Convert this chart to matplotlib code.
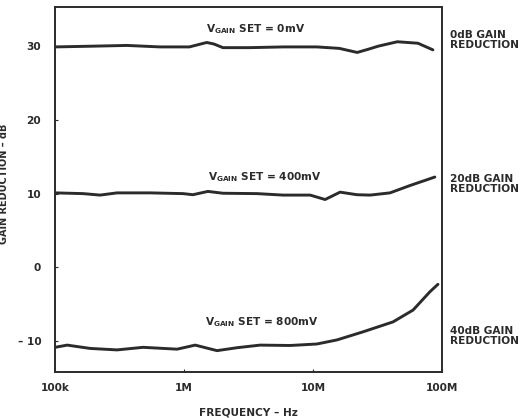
import matplotlib

matplotlib.use("Agg")
import matplotlib.pyplot as plt
from matplotlib.ticker import FixedLocator, NullFormatter

# readings from the scanned datasheet curve (Hz, dB)
top_freq = [100e3, 195e3, 360e3, 650e3, 1.1e6, 1.35e6, 1.5e6, 1.7e6, 2.0e6,
            3.2e6, 5.9e6, 10.7e6, 16e6, 19e6, 22e6, 27e6, 32e6, 45e6, 65e6, 85e6]
top_db = [29.9, 30.0, 30.1, 29.9, 29.9, 30.3, 30.5, 30.3, 29.8,
          29.8, 29.9, 29.9, 29.7, 29.4, 29.15, 29.6, 30.0, 30.6, 30.4, 29.5]

mid_freq = [100e3, 165e3, 223e3, 302e3, 545e3, 982e3, 1.17e6, 1.53e6, 2.0e6,
            3.68e6, 5.85e6, 9.5e6, 12.4e6, 16.2e6, 21.9e6, 27.7e6, 39.5e6,
            56.5e6, 88e6]
mid_db = [10.1, 10.0, 9.8, 10.1, 10.1, 10.0, 9.85, 10.3, 10.05,
          10.0, 9.8, 9.8, 9.2, 10.2, 9.85, 9.8, 10.1, 11.1, 12.25]

low_freq = [100e3, 124e3, 187e3, 302e3, 481e3, 883e3, 1.22e6, 1.8e6, 2.58e6,
            3.88e6, 6.64e6, 10.7e6, 15.3e6, 24.4e6, 41.7e6, 59.6e6, 80.7e6, 93e6]
low_db = [-10.85, -10.55, -11.0, -11.2, -10.85, -11.1, -10.55, -11.3, -10.9,
          -10.55, -10.6, -10.4, -9.85, -8.75, -7.4, -5.8, -3.3, -2.3]

x_ticks = [100e3, 1e6, 10e6, 100e6]
x_labels = ["100k", "1M", "10M", "100M"]
y_ticks = [30, 20, 10, 0, -10]
y_labels = ["30", "20", "10", "0", "\u2013 10"]

curve_labels = ["SET = 0mV", "SET = 400mV", "SET = 800mV"]
curve_label_pos = [(3.6e6, 32.3), (4.2e6, 12.2), (4.0e6, -7.4)]
side_labels = ["0dB GAIN\nREDUCTION", "20dB GAIN\nREDUCTION", "40dB GAIN\nREDUCTION"]
side_label_y = [30.9, 11.3, -9.3]

ink = "#2b2b2b"
fs = 7.6
plt.rcParams["font.family"] = ["DejaVu Sans"]
plt.rcParams["font.weight"] = "bold"
plt.rcParams["axes.labelweight"] = "bold"
plt.rcParams["mathtext.fontset"] = "custom"
plt.rcParams["mathtext.rm"] = "DejaVu Sans:bold"

fig = plt.figure(figsize=(5.3, 4.18), dpi=100)
ax = fig.add_axes([0.104, 0.110, 0.730, 0.873])

for freq, db in ((top_freq, top_db), (mid_freq, mid_db), (low_freq, low_db)):
    ax.plot(freq, db, color=ink, linewidth=2.1, solid_capstyle="round",
            solid_joinstyle="round")

ax.set_xscale("log")
ax.set_xlim(100e3, 100e6)
ax.set_ylim(-14.2, 35.3)

ax.xaxis.set_major_locator(FixedLocator(x_ticks))
ax.set_xticklabels(x_labels)
ax.xaxis.set_minor_formatter(NullFormatter())
ax.set_yticks(y_ticks)
ax.set_yticklabels(y_labels)
ax.tick_params(axis="both", which="both", direction="in", length=2,
               width=0.8, colors=ink, labelsize=fs)
ax.tick_params(axis="x", which="minor", length=0)
ax.tick_params(axis="x", pad=8)
ax.tick_params(axis="y", pad=10)

for spine in ax.spines.values():
    spine.set_linewidth(1.4)
    spine.set_color(ink)

ax.set_xlabel("FREQUENCY \u2013 Hz", fontsize=fs, color=ink, labelpad=10)
ax.set_ylabel("GAIN REDUCTION \u2013 dB", fontsize=7.0, color=ink)
ax.yaxis.set_label_coords(-0.12, 0.515)

for text, (fx, fy) in zip(curve_labels, curve_label_pos):
    ax.text(fx, fy, r"V$_{\mathrm{GAIN}}$ " + text, ha="center", va="center",
            fontsize=fs, color=ink)

for text, fy in zip(side_labels, side_label_y):
    ax.text(1.02, fy, text, transform=ax.get_yaxis_transform(), ha="left",
            va="center", fontsize=fs, color=ink, linespacing=1.0,
            clip_on=False)

fig.savefig("out.png", dpi=100, facecolor="white")
